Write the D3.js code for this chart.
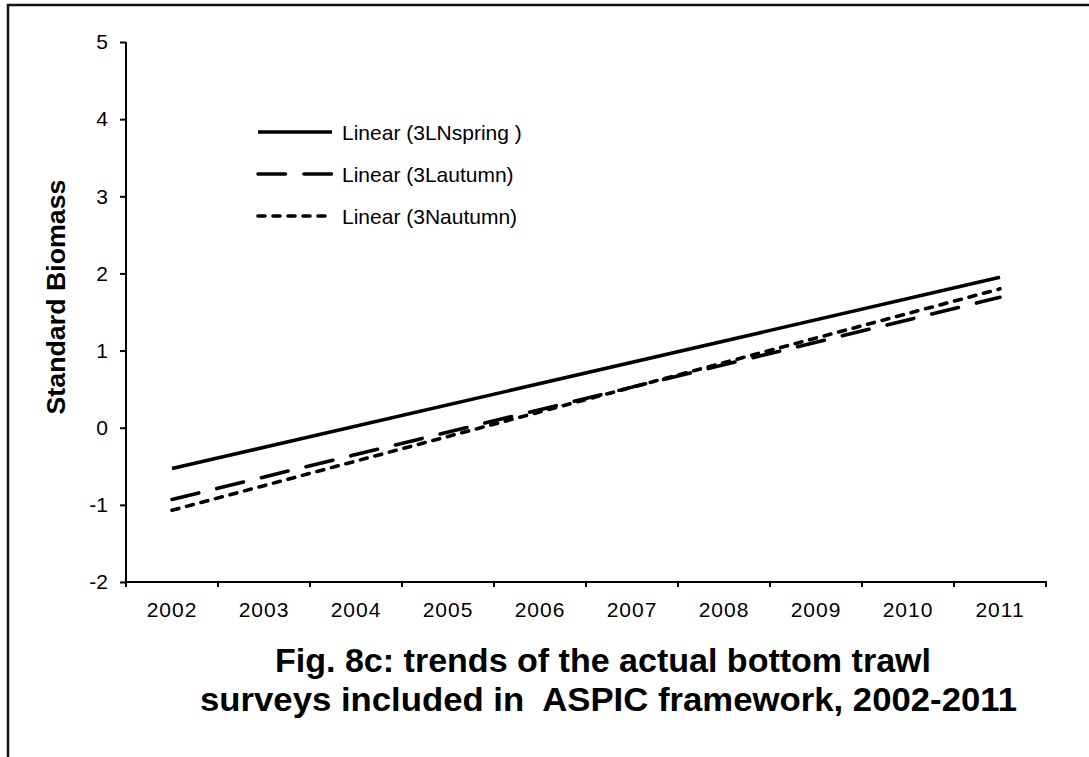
<!DOCTYPE html>
<html>
<head>
<meta charset="utf-8">
<script src="https://cdn.jsdelivr.net/npm/d3@7"></script>
<style>
  html, body { margin: 0; padding: 0; background: #fff; }
  svg { display: block; font-family: "Liberation Sans", Arial, sans-serif; }
</style>
</head>
<body>
<svg id="chart" width="1089" height="757"></svg>
<script>
// Survey years on the category axis
const years = ["2002","2003","2004","2005","2006","2007","2008","2009","2010","2011"];
// Linear trend lines: value at the first and last survey year
const seriesNames = ["Linear (3LNspring )", "Linear (3Lautumn)", "Linear (3Nautumn)"];
const trendStart = [-0.53, -0.93, -1.07];
const trendEnd   = [1.95, 1.69, 1.80];
const yTicks = [-2, -1, 0, 1, 2, 3, 4, 5];

const dashStyles = [null, "27.5,18.5", "7,8"];
const FONT = "'Liberation Sans', Arial, sans-serif";

const svg = d3.select("#chart");

// outer frame (top and left edges)
svg.append("path")
  .attr("d", "M8,757 V5 H1089")
  .attr("fill", "none").attr("stroke", "#111").attr("stroke-width", 2.5);

const x = d3.scaleBand().domain(years).range([126, 1046]);
const y = d3.scaleLinear().domain([-2, 5]).range([582, 42]);

// y axis
const yAxis = svg.append("g").attr("transform", "translate(126,0)")
  .call(d3.axisLeft(y).tickValues(yTicks).tickSize(6).tickPadding(12)
    .tickFormat(d => String(d)));
// x axis
const xAxis = svg.append("g").attr("transform", "translate(0,582)")
  .call(d3.axisBottom(x).tickSize(0).tickPadding(20));
[yAxis, xAxis].forEach(g => {
  g.select(".domain").attr("stroke", "#000").attr("stroke-width", 2);
  g.selectAll("text").attr("font-size", 21).attr("fill", "#000")
    .attr("font-family", FONT);
  g.selectAll(".tick line").attr("stroke", "#000").attr("stroke-width", 2);
});
xAxis.selectAll("text").attr("letter-spacing", 1);
yAxis.select(".domain").attr("d", "M126,42V582").attr("transform", "translate(-126,0)");
xAxis.select(".domain").attr("d", "M126,0H1046V5");
// category boundary ticks
const bounds = years.map(d => x(d));
xAxis.selectAll(".bound").data(bounds).enter().append("line")
  .attr("class", "bound")
  .attr("x1", d => d).attr("x2", d => d).attr("y1", 0).attr("y2", 5)
  .attr("stroke", "#000").attr("stroke-width", 2);

// trend lines
const first = years[0], last = years[years.length - 1];
const cx = d => x(d) + x.bandwidth() / 2;
seriesNames.forEach((name, i) => {
  const pts = [[first, trendStart[i]], [last, trendEnd[i]]];
  svg.append("path")
    .attr("d", d3.line().x(p => cx(p[0])).y(p => y(p[1]))(pts))
    .attr("fill", "none").attr("stroke", "#000").attr("stroke-width", 3.6)
    .attr("stroke-linecap", dashStyles[i] ? "round" : "butt")
    .attr("stroke-dasharray", dashStyles[i]);
});

// legend
const legY = [132, 174, 216];
seriesNames.forEach((name, i) => {
  svg.append("line")
    .attr("x1", 258).attr("x2", 332).attr("y1", legY[i]).attr("y2", legY[i])
    .attr("stroke", "#000").attr("stroke-width", 3.6)
    .attr("stroke-linecap", dashStyles[i] ? "round" : "butt")
    .attr("stroke-dasharray", dashStyles[i]);
  svg.append("text").attr("x", 342).attr("y", legY[i] + 7.5)
    .attr("font-size", 21).attr("fill", "#000").text(name);
});

// y axis title
svg.append("text")
  .attr("transform", "translate(65,297) rotate(-90)")
  .attr("text-anchor", "middle").attr("font-size", 26).attr("font-weight", "bold")
  .attr("textLength", 235).attr("lengthAdjust", "spacingAndGlyphs")
  .text("Standard Biomass");

// figure caption
svg.append("text").attr("x", 603).attr("y", 672)
  .attr("text-anchor", "middle").attr("font-size", 33).attr("font-weight", "bold")
  .attr("textLength", 656).attr("lengthAdjust", "spacingAndGlyphs")
  .text("Fig. 8c: trends of the actual bottom trawl");
svg.append("text").attr("x", 608.5).attr("y", 711)
  .attr("text-anchor", "middle").attr("font-size", 33).attr("font-weight", "bold")
  .attr("textLength", 817).attr("lengthAdjust", "spacingAndGlyphs")
  .attr("xml:space", "preserve")
  .text("surveys included in  ASPIC framework, 2002-2011");
</script>
</body>
</html>
